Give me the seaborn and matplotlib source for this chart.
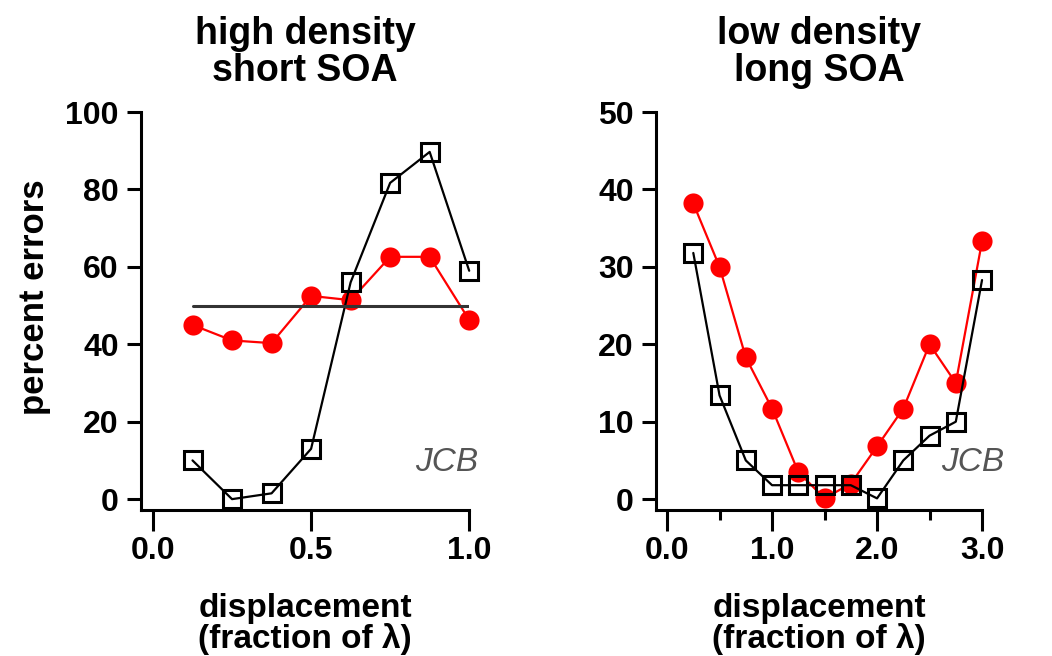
import numpy as np
import pandas as pd
import seaborn as sns
import matplotlib.pyplot as plt
from matplotlib.ticker import FixedLocator, FormatStrFormatter

# high density / short SOA
hd_x = [0.125, 0.25, 0.375, 0.5, 0.625, 0.75, 0.875, 1.0]
hd_red = [45, 41, 40.3, 52.5, 51.4, 62.6, 62.6, 46.3]
hd_black = [10, 0, 1.5, 13, 56, 81.7, 89.7, 59]
chance_x = [0.125, 1.0]
chance_y = [50, 50]

# low density / long SOA
ld_x = [0.25, 0.5, 0.75, 1.0, 1.25, 1.5, 1.75, 2.0, 2.25, 2.5, 2.75, 3.0]
ld_red = [38.2, 30.0, 18.3, 11.7, 3.5, 0.1, 2.0, 6.8, 11.7, 20.0, 15.0, 33.3]
ld_black = [31.8, 13.4, 5.0, 1.8, 1.8, 1.8, 1.8, 0.1, 5.0, 8.2, 10.0, 28.3]

titles = ["high density\nshort SOA", "low density\nlong SOA"]
xlabel = "displacement\n(fraction of λ)"

sns.set_theme(style="ticks")
plt.rcParams['font.family'] = ['Liberation Sans', 'DejaVu Sans']
for key in ['text.color', 'axes.labelcolor', 'xtick.color', 'ytick.color', 'axes.edgecolor']:
    plt.rcParams[key] = 'black'

fig = plt.figure(figsize=(10.52, 6.56), dpi=100)
ax1 = fig.add_axes([0.134, 0.2226, 0.312, 0.6066])
ax2 = fig.add_axes([0.6236, 0.2226, 0.3099, 0.6066])


def draw(ax, x, red, black):
    df = pd.DataFrame({'x': x, 'red': red, 'black': black})
    sns.lineplot(data=df, x='x', y='red', ax=ax, color='#ff0000', linewidth=1.6,
                 marker='o', markersize=14.5, markeredgewidth=0, clip_on=False)
    sns.lineplot(data=df, x='x', y='black', ax=ax, color='black', linewidth=1.6,
                 marker='s', markersize=12.5, markerfacecolor='none',
                 markeredgecolor='black', markeredgewidth=2.2, clip_on=False)


draw(ax1, hd_x, hd_red, hd_black)
sns.lineplot(x=chance_x, y=chance_y, ax=ax1, color='#333333', linewidth=2.2)
draw(ax2, ld_x, ld_red, ld_black)

ax1.set_xlim(-0.038, 1.0)
ax1.set_ylim(-2.8, 100)
ax1.set_xticks([0.0, 0.5, 1.0])
ax1.set_yticks([0, 20, 40, 60, 80, 100])

ax2.set_xlim(-0.105, 3.0)
ax2.set_ylim(-1.4, 50)
ax2.set_xticks([0.0, 1.0, 2.0, 3.0])
ax2.xaxis.set_minor_locator(FixedLocator([0.5, 1.5, 2.5]))
ax2.set_yticks([0, 10, 20, 30, 40, 50])

for ax, title in zip([ax1, ax2], titles):
    ax.spines[['right', 'top']].set_visible(False)
    for s in ['left', 'bottom']:
        ax.spines[s].set_linewidth(2.2)
    ax.xaxis.set_major_formatter(FormatStrFormatter('%.1f'))
    ax.tick_params(axis='x', which='major', length=15, width=2.2, pad=4,
                   labelsize=23, direction='out')
    ax.tick_params(axis='x', which='minor', length=7.5, width=2.2, direction='out')
    ax.tick_params(axis='y', length=10, width=2.2, pad=6, labelsize=23, direction='out')
    for lab in ax.get_xticklabels() + ax.get_yticklabels():
        lab.set_fontweight('bold')
    ax.set_title(title, fontsize=27, fontweight='bold', pad=22, linespacing=1.05)
    ax.set_xlabel(xlabel, fontsize=24, fontweight='bold', labelpad=19, linespacing=0.95)
    ax.set_ylabel('')
    ax.text(0.93 if ax is ax1 else 0.97, 0.12, 'JCB', transform=ax.transAxes,
            fontsize=24, fontstyle='italic', color='#555555', ha='center', va='center')

ax1.set_ylabel('percent errors', fontsize=25, fontweight='bold')
ax1.yaxis.set_label_coords(-0.275, 0.535)

fig.savefig('out.png', dpi=100)
